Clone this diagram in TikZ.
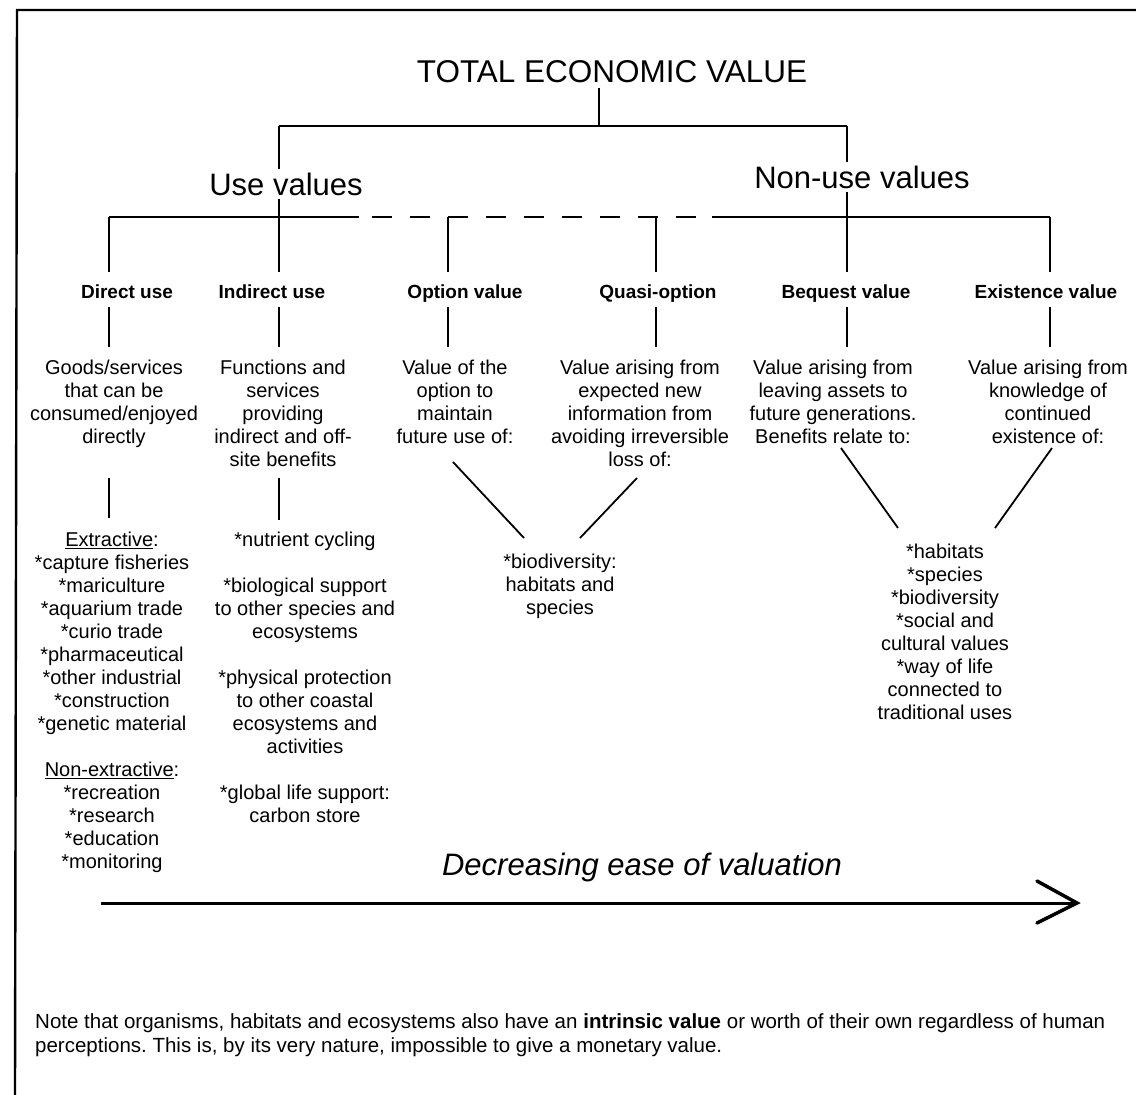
\documentclass[tikz,border=0pt]{standalone}
\usepackage{fontspec}
\setmainfont{Liberation Sans}
\frenchspacing
\begin{document}
\begin{tikzpicture}[x=1pt,y=-1pt,
  tree/.style={line width=1.8pt, line cap=butt},
  dashtree/.style={tree, dash pattern=on 20pt off 18pt, dash phase=25pt},
  heading/.style={font=\fontsize{31}{36}\selectfont, inner sep=4pt, fill=white, anchor=base},
  kind/.style={font=\bfseries\fontsize{19}{22}\selectfont, inner sep=0pt, anchor=base},
  desc/.style={font=\fontsize{20}{23}\selectfont, align=center, inner sep=0pt, anchor=north},
]
\useasboundingbox (0,0) rectangle (1136,1095);
\fill[white] (0,0) rectangle (1136,1095);

% outer frame (top and left edges)
\draw[line width=2.4pt] (1136,10) -- (17,10) -- (15,1095);

% title
\node[font=\fontsize{31.5}{38}\selectfont, anchor=base, inner sep=0pt] (tev) at (612,82) {TOTAL ECONOMIC VALUE};

% first split
\coordinate (tevjoin) at (599,126);
\coordinate (useT) at (279,126);
\coordinate (nonT) at (847,126);
\draw[tree, shorten <=5pt] (tev.south -| tevjoin) -- (tevjoin);
\draw[tree] (useT) -- (nonT);

% second level bar
\coordinate (j1) at (109,217);
\coordinate (j2) at (279,217);
\coordinate (j3) at (448,217);
\coordinate (j4) at (656,217);
\coordinate (j5) at (847,217);
\coordinate (j6) at (1050,217);
\coordinate (dashL) at (359,217);
\coordinate (dashR) at (712,217);
\draw[tree] (j1) -- (dashL);
\draw[dashtree] (dashL) -- (dashR);
\draw[tree] (dashR) -- (j6);

% kinds of value
\node[kind] (k1) at (127,298) {Direct use};
\node[kind] (k2) at (272,298) {Indirect use};
\node[kind] (k3) at (465,298) {Option value};
\node[kind] (k4) at (658,298) {Quasi-option};
\node[kind] (k5) at (846,298) {Bequest value};
\node[kind] (k6) at (1046,298) {Existence value};

\foreach \i/\x in {1/109,2/279,3/448,4/656,5/847,6/1050}{
  \coordinate (up\i) at (\x,272);
  \coordinate (da\i) at (\x,307);
  \coordinate (db\i) at (\x,347);
}
\draw[tree] (useT) -- (up2);
\draw[tree] (nonT) -- (up5);
\foreach \i in {1,3,4,6}{ \draw[tree] (j\i) -- (up\i); }
\foreach \i in {1,...,6}{ \draw[tree] (da\i) -- (db\i); }

% the two groups
\node[heading] (use) at (286,195) {Use values};
\node[heading] (nonuse) at (862,188) {Non-use values};

% descriptions (first baseline at 374)
\node[desc] (d1) at (114,359.5) {Goods/services\\that can be\\consumed/enjoyed\\directly};
\node[desc] (d2) at (283,359.5) {Functions and\\services\\providing\\indirect and off-\\site benefits};
\node[desc] (d3) at (455,359.5) {Value of the\\option to\\maintain\\future use of:};
\node[desc] (d4) at (640,359.5) {Value arising from\\expected new\\information from\\avoiding irreversible\\loss of:};
\node[desc] (d5) at (833,359.5) {Value arising from\\leaving assets to\\future generations.\\Benefits relate to:};
\node[desc] (d6) at (1048,359.5) {Value arising from\\knowledge of\\continued\\existence of:};

% links from descriptions to what they cover
\coordinate (la1) at (109,478); \coordinate (lb1) at (109,518);
\coordinate (la2) at (279,478); \coordinate (lb2) at (279,520);
\draw[tree] (la1) -- (lb1);
\draw[tree] (la2) -- (lb2);

\coordinate (oa) at (453,462); \coordinate (ob) at (524,538);
\coordinate (qa) at (637,478); \coordinate (qb) at (580,538);
\coordinate (ba) at (841,448); \coordinate (bb) at (898,528);
\coordinate (ea) at (1052,448); \coordinate (eb) at (995,528);
\draw[tree] (oa) -- (ob);
\draw[tree] (qa) -- (qb);
\draw[tree] (ba) -- (bb);
\draw[tree] (ea) -- (eb);

% lists
\node[desc] (l1) at (112,531.5) {\underline{Extractive}:\\*capture fisheries\\*mariculture\\*aquarium trade\\*curio trade\\*pharmaceutical\\*other industrial\\*construction\\*genetic material\\[23pt]\underline{Non-extractive}:\\*recreation\\*research\\*education\\*monitoring};
\node[desc] (l2) at (305,531.5) {*nutrient cycling\\[23pt]*biological support\\to other species and\\ecosystems\\[23pt]*physical protection\\to other coastal\\ecosystems and\\activities\\[23pt]*global life support:\\carbon store};
\node[desc] (l3) at (560,553.5) {*biodiversity:\\habitats and\\species};
\node[desc] (l4) at (945,543.5) {*habitats\\*species\\*biodiversity\\*social and\\cultural values\\*way of life\\connected to\\traditional uses};

% direction of valuation
\node[font=\itshape\fontsize{31}{36}\selectfont, anchor=base, inner sep=0pt] (ease) at (642,875) {Decreasing ease of valuation};
\coordinate (arrS) at (101,903);
\coordinate (arrE) at (1077,903);
\coordinate (barbU) at (1037,881);
\coordinate (barbD) at (1037,923);
\draw[line width=3pt] (arrS) -- (arrE);
\draw[line width=3.5pt, line join=miter, line cap=round] (barbU) -- (arrE) -- (barbD);

% note
\node[font=\fontsize{20.5}{24}\selectfont, align=left, anchor=north west, inner sep=0pt] (note) at (35,1013)
  {Note that organisms, habitats and ecosystems also have an \textbf{intrinsic value} or worth of their own regardless of human\\perceptions. This is, by its very nature, impossible to give a monetary value.};
\end{tikzpicture}
\end{document}
